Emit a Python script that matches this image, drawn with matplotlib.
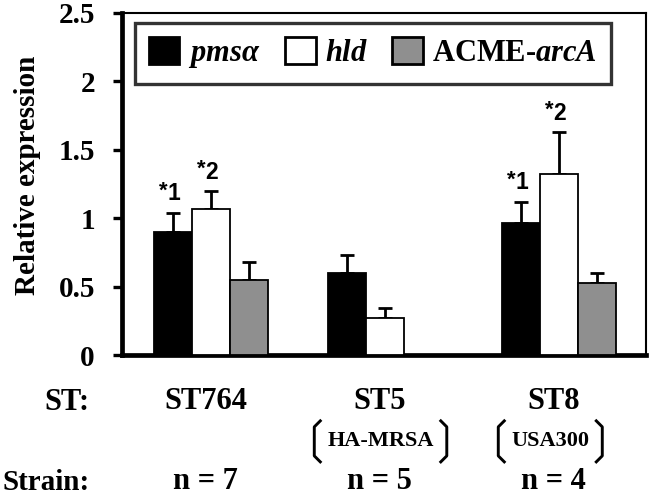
import numpy as np
import matplotlib
matplotlib.use('Agg')
from matplotlib import pyplot as plt
from matplotlib.lines import Line2D

plt.rcParams['mathtext.fontset'] = 'custom'
plt.rcParams['mathtext.rm'] = 'Liberation Serif:bold'
plt.rcParams['mathtext.it'] = 'Liberation Serif:bold:italic'
plt.rcParams['mathtext.bf'] = 'Liberation Serif:bold'

# data
groups = ['ST764', 'ST5', 'ST8']
subtypes = ['', 'HA-MRSA', 'USA300']
strains = ['n = 7', 'n = 5', 'n = 4']
series = [r'$\mathit{pms\alpha}$', r'$\mathit{hld}$', r'ACME-$\mathit{arcA}$']
pmsa = [0.90, 0.60, 0.965]
pmsa_err = [0.14, 0.13, 0.155]
hld = [1.07, 0.27, 1.32]
hld_err = [0.13, 0.07, 0.31]
arca = [0.55, 0.0, 0.53]
arca_err = [0.13, 0.0, 0.07]
pmsa_sig = ['1', '', '1']
hld_sig = ['2', '', '2']
yticks = [0, 0.5, 1, 1.5, 2, 2.5]
ytick_labels = ['0', '0.5', '1', '1.5', '2', '2.5']

colors = ['black', 'white', '#8f8f8f']
serif = dict(family='Liberation Serif', weight='bold')

fig = plt.figure(figsize=(6.5, 5.03), dpi=100)
ax = fig.add_axes([0.1877, 0.2942, 0.8062, 0.68])

x = np.arange(len(groups))
w = 0.218
vals = [pmsa, hld, arca]
errs = [pmsa_err, hld_err, arca_err]
sigs = [pmsa_sig, hld_sig, None]
handles = []
for i in range(3):
	xs = x + (i - 1) * w
	v = np.array(vals[i])
	e = np.array(errs[i])
	b = ax.bar(xs, v, w, color=colors[i], edgecolor='black', linewidth=1.3, zorder=3)
	handles.append(b)
	keep = v > 0
	ax.errorbar(xs[keep], v[keep], yerr=[np.zeros(keep.sum()), e[keep]], fmt='none',
		ecolor='black', elinewidth=2, capsize=4.7, capthick=2, zorder=2)
	if sigs[i] is not None:
		for j, s in enumerate(sigs[i]):
			if not s:
				continue
			top = v[j] + e[j] + 0.09
			ax.annotate(s, (xs[j], top), xytext=(-4, 0), textcoords='offset points',
				ha='left', va='baseline', fontsize=16.5, family='Liberation Sans', weight='bold')
			ax.annotate('*', (xs[j], top), xytext=(-4, 3), textcoords='offset points',
				ha='right', va='baseline', fontsize=16, family='Liberation Sans', weight='bold')

ax.set_xlim(-0.51, 2.5)
ax.set_ylim(0, 2.5)
ax.set_yticks(yticks)
ax.set_yticklabels(ytick_labels, fontsize=21, **serif)
ax.set_xticks([])
ax.tick_params(axis='y', length=6.5, width=2.4, pad=13, direction='out')
for side in ['left', 'bottom']:
	ax.spines[side].set_linewidth(3.4)
for side in ['top', 'right']:
	ax.spines[side].set_linewidth(1.5)

leg = ax.legend(handles, series, ncol=3, loc='upper left', bbox_to_anchor=(0.0248, 0.971),
	borderaxespad=0, frameon=True, fancybox=False, edgecolor='black',
	prop=dict(size=22, **serif), handlelength=1.0, handleheight=1.0,
	handletextpad=0.3, columnspacing=0.8, borderpad=0.45)
leg.get_frame().set_linewidth(2.4)
for h in leg.legend_handles:
	h.set_linewidth(2)

fig.text(0.043, 1 - 175 / 503, 'Relative expression', rotation=90, ha='center', va='center',
	fontsize=21, **serif)

# rows under the axis
trans = ax.get_xaxis_transform()
fig.text(90 / 650, 1 - 402 / 503, 'ST:', ha='right', va='center', fontsize=22, **serif)
fig.text(3 / 650, 1 - 482 / 503, 'Strain:', ha='left', va='center', fontsize=21, **serif)
sub_texts = []
for j in range(len(groups)):
	ax.text(x[j] - 0.03, -0.137, groups[j], transform=trans, ha='center', va='center', fontsize=22, **serif)
	ax.text(x[j] - 0.03, -0.371, strains[j], transform=trans, ha='center', va='center', fontsize=22, **serif)
	if subtypes[j]:
		t = ax.text(x[j] - 0.025 * j, -0.251, subtypes[j], transform=trans, ha='center',
			va='center', fontsize=16, **serif)
		sub_texts.append(t)

# round brackets around the sub-type names
fig.canvas.draw()
r = fig.canvas.get_renderer()
for t in sub_texts:
	bb = t.get_window_extent(r)
	yc = (bb.y0 + bb.y1) / 2
	top, bot = yc + 20, yc - 21
	for xe, d in [(bb.x0 - 13, 1), (bb.x1 + 13, -1)]:
		px = [xe + d * 6, xe, xe, xe + d * 6]
		py = [top, top - 6, bot + 6, bot]
		fig.add_artist(Line2D(np.array(px) / 650, np.array(py) / 503,
			transform=fig.transFigure, color='black', lw=2.1, solid_joinstyle='round'))

fig.savefig('out.png', dpi=100)
